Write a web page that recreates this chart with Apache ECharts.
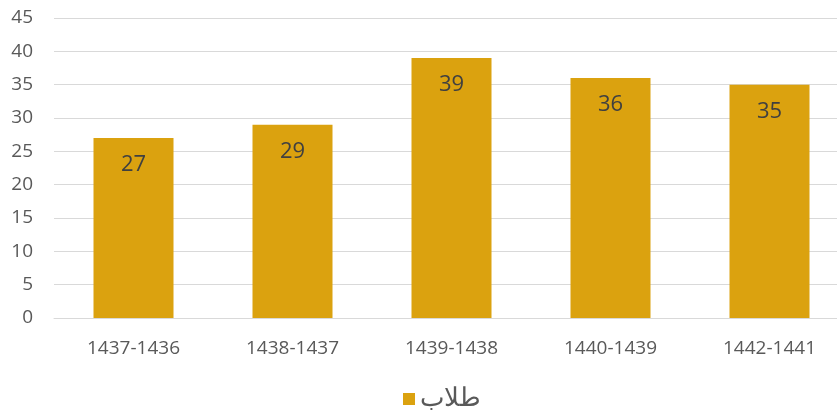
<!DOCTYPE html>
<html>
<head>
<meta charset="utf-8">
<script src="https://cdn.jsdelivr.net/npm/echarts@6/dist/echarts.min.js"></script>
<style>
  html, body { margin: 0; padding: 0; background: #fff; }
  #chart { width: 837px; height: 412px; }
</style>
</head>
<body>
<div id="chart"></div>
<script>
const categories = ['1437-1436', '1438-1437', '1439-1438', '1440-1439', '1442-1441']
const students = [27, 29, 39, 36, 35]
const seriesName = 'طلاب'

const chart = echarts.init(document.getElementById('chart'))
const font = '"Open Sans", "Noto Sans", sans-serif'

// plot area runs a bit past the right edge, like the source picture
chart.setOption({
  animation: false,
  textStyle: { fontFamily: font },
  grid: { left: 54, right: -12, top: 18, bottom: 94, outerBoundsMode: 'none', containLabel: false },
  legend: {
    bottom: -5,
    left: 398,
    itemWidth: 12,
    itemHeight: 12,
    itemGap: 5,
    icon: 'rect',
    textStyle: { fontSize: 26, color: '#595959', fontFamily: 'Noto Sans, sans-serif' },
    data: [seriesName]
  },
  xAxis: {
    type: 'category',
    data: categories,
    axisLine: { lineStyle: { color: '#d9d9d9', width: 1 } },
    axisTick: { show: false },
    axisLabel: { color: '#595959', fontSize: 19, margin: 21, fontFamily: font }
  },
  yAxis: {
    type: 'value',
    min: 0,
    max: 45,
    interval: 5,
    axisLine: { show: false },
    axisTick: { show: false },
    splitLine: { lineStyle: { color: '#d9d9d9', width: 1 } },
    axisLabel: { color: '#595959', fontSize: 19, margin: 21, fontFamily: font }
  },
  series: [{
    name: seriesName,
    type: 'bar',
    data: students,
    barWidth: 80,
    itemStyle: { color: '#dba20f' },
    label: {
      show: true,
      position: 'insideTop',
      distance: 16,
      color: '#404040',
      fontSize: 22,
      fontFamily: font
    }
  }]
})
</script>
</body>
</html>
